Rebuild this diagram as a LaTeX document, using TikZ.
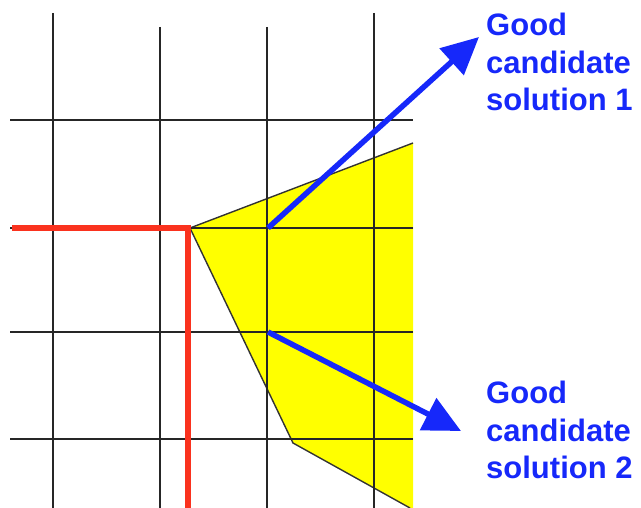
\documentclass[tikz,border=0pt]{standalone}
\usepackage{fontspec}
\setmainfont{Liberation Sans}
\usetikzlibrary{arrows.meta, positioning}
\definecolor{solblue}{RGB}{22,40,250}
\definecolor{pathred}{RGB}{250,50,30}
\definecolor{regyellow}{RGB}{255,255,0}

\begin{document}
\begin{tikzpicture}[x=1pt, y=-1pt,
        rejilla/.style={line width=2pt, black!85},
        camino/.style={line width=6pt, pathred},
        flecha/.style={line width=5.5pt, solblue, -{Triangle[length=37pt, width=35pt]}},
        etiqueta/.style={anchor=north west, inner sep=0pt, align=left, text=solblue,
            font=\fontsize{31}{37.5}\selectfont\bfseries}]
        \useasboundingbox (0,0) rectangle (641,508);
        % region factible
        \fill[regyellow] (190,228) -- (413,143) -- (413,508) -- (410,508) -- (293,443) -- cycle;
        \draw[line width=1.4pt, black!80] (413,143) -- (190,228) -- (293,443) -- (410,508);
        % rejilla
        \foreach \x/\t in {53/13, 160/27, 267/27, 374/13}
            \draw[rejilla] (\x,\t) -- (\x,508);
        \foreach \y in {120, 228, 332, 439}
            \draw[rejilla] (10,\y) -- (413,\y);
        % camino
        \draw[camino] (12,228) -- (188,228) -- (188,508);
        % soluciones
        \coordinate (p1) at (268,228);
        \coordinate (p2) at (268,332);
        \coordinate (t1) at (479,37);
        \coordinate (t2) at (461,431);
        \node[etiqueta] (sol1) at (486,13) {Good\\candidate\\solution 1};
        \node[etiqueta] (sol2) at (486,381) {Good\\candidate\\solution 2};
        \draw[flecha] (p1) -- (t1);
        \draw[flecha] (p2) -- (t2);
    \end{tikzpicture}
\end{document}
